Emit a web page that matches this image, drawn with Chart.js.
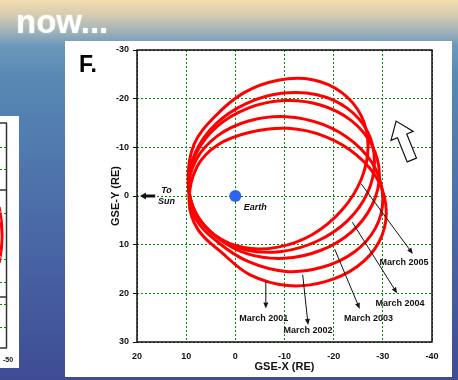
<!DOCTYPE html>
<html>
<head>
<meta charset="utf-8">
<script src="https://cdn.jsdelivr.net/npm/chart.js@4.4.1/dist/chart.umd.min.js"></script>
<style>
  html, body { margin: 0; padding: 0; background: #4a6aa8; }
  canvas { display: block; }
</style>
</head>
<body>
<canvas id="orbits" width="458" height="380"></canvas>
<script>
// Axis ticks (GSE coordinates, Earth radii)
const xTicks = [20, 10, 0, -10, -20, -30, -40];
const yTicks = [-30, -20, -10, 0, 10, 20, 30];

// Earth at the origin
const earth = [{ x: 0, y: 0 }];

// Orbit tracks, [GSE-X, GSE-Y] in RE, going round each loop
const orbit2001 = [[-30.7,3.4],[-29.2,9.5],[-24.8,14.5],[-18.3,17.6],[-10.7,18.4],[-3.0,16.2],[2.8,11.6],[7.6,6.9],[9.4,1.1],[7.8,-6.0],[3.6,-10.5],[-3.0,-13.1],[-10.7,-13.9],[-18.3,-12.2],[-24.8,-8.3],[-29.2,-2.9]];
const orbit2002 = [[-30.0,0.6],[-28.5,6.6],[-24.2,11.5],[-17.8,14.6],[-10.3,15.5],[-2.7,13.5],[3.4,9.6],[8.0,4.8],[9.5,-1.4],[8.0,-7.4],[3.7,-12.3],[-2.7,-15.4],[-10.3,-16.3],[-17.8,-14.7],[-24.2,-10.9],[-28.5,-5.6]];
const orbit2003 = [[-29.3,-4.3],[-27.8,1.9],[-23.6,7.4],[-17.3,11.2],[-9.9,12.8],[-2.5,11.9],[3.6,8.6],[8.0,3.6],[9.5,-2.5],[8.0,-8.7],[3.8,-14.2],[-2.5,-18.0],[-9.9,-19.6],[-17.3,-18.7],[-23.6,-15.5],[-27.8,-10.4]];
const orbit2004 = [[-28.3,-7.1],[-26.9,-0.7],[-22.8,5.1],[-16.6,9.3],[-9.4,11.4],[-2.2,11.1],[4.0,8.3],[8.1,3.5],[9.5,-2.6],[8.1,-9.0],[4.0,-14.8],[-2.2,-19.0],[-9.4,-21.1],[-16.6,-20.8],[-22.8,-18.0],[-26.9,-13.2]];
const orbit2005 = [[-27.0,-10.2],[-25.6,-3.4],[-21.6,3.0],[-15.7,7.9],[-8.7,10.5],[-1.7,10.6],[4.2,8.0],[8.2,3.2],[9.6,-3.1],[8.4,-10.6],[4.2,-16.3],[-1.7,-21.2],[-8.7,-23.8],[-15.7,-23.9],[-21.6,-21.3],[-25.6,-16.5]];

const orbits = [orbit2001, orbit2002, orbit2003, orbit2004, orbit2005];
const orbitNames = ['March 2001', 'March 2002', 'March 2003', 'March 2004', 'March 2005'];

// Callout arrows: start on the orbit, end at the label (data units)
const calloutFrom = [[-6.2,17.6],[-13.7,16.2],[-20.2,10.9],[-23.8,5.4],[-25.6,-2.5]];
const calloutTo   = [[-6.2,23.1],[-14.8,26.5],[-25.3,23.2],[-32.9,20.0],[-36.1,11.9]];
const calloutText = [[-5.8,25.1],[-14.8,27.7],[-27.1,25.1],[-33.5,22.0],[-34.3,13.6]];

const FONT = '"Liberation Sans", Arial, Helvetica, sans-serif';

// Closed loop: pad with the neighbours on both ends so the spline
// has proper tangents at the join, then hide the two padding segments.
function closedLoop(track) {
  const n = track.length;
  const pts = [track[n - 1], ...track, track[0], track[1]];
  return pts.map(([x, y]) => ({ x, y }));
}

const orbitDatasets = orbits.map((track, i) => {
  const data = closedLoop(track);
  const last = data.length - 1;
  return {
    label: orbitNames[i],
    data,
    showLine: true,
    borderColor: '#ff0000',
    borderWidth: 3,
    borderCapStyle: 'round',
    pointRadius: 0,
    pointHoverRadius: 0,
    tension: 0.36,
    segment: {
      borderColor: ctx => (ctx.p0DataIndex === 0 || ctx.p1DataIndex === last) ? 'rgba(0,0,0,0)' : '#ff0000'
    }
  };
});

function arrowLine(ctx, x1, y1, x2, y2, len, half) {
  const a = Math.atan2(y2 - y1, x2 - x1);
  const bx = x2 - len * Math.cos(a), by = y2 - len * Math.sin(a);
  ctx.beginPath(); ctx.moveTo(x1, y1); ctx.lineTo(bx, by); ctx.stroke();
  ctx.beginPath();
  ctx.moveTo(x2, y2);
  ctx.lineTo(bx + half * Math.sin(a), by - half * Math.cos(a));
  ctx.lineTo(bx - half * Math.sin(a), by + half * Math.cos(a));
  ctx.closePath(); ctx.fill();
}

const decor = {
  id: 'decor',
  beforeDraw(chart) {
    const { ctx } = chart;
    ctx.save();
    // slide background
    const g = ctx.createLinearGradient(0, 0, 0, 380);
    g.addColorStop(0.00, '#f2dcae');
    g.addColorStop(0.04, '#d6ccb0');
    g.addColorStop(0.08, '#a3b4b8');
    g.addColorStop(0.12, '#6b99bb');
    g.addColorStop(0.20, '#5789b4');
    g.addColorStop(0.60, '#4a69a7');
    g.addColorStop(1.00, '#3e4c94');
    ctx.fillStyle = g;
    ctx.fillRect(0, 0, 458, 380);

    ctx.font = 'bold 33px ' + FONT;
    ctx.fillStyle = '#ffffff';
    ctx.textBaseline = 'alphabetic';
    ctx.textAlign = 'left';
    ctx.shadowColor = 'rgba(255,255,255,0.5)';
    ctx.shadowBlur = 2;
    ctx.fillText('now...', 16, 33);
    ctx.shadowBlur = 0;

    // neighbouring panel (cut off at the left edge)
    ctx.fillStyle = '#ffffff';
    ctx.fillRect(0, 116, 19, 252);
    ctx.strokeStyle = '#333';
    ctx.lineWidth = 1.5;
    ctx.beginPath();
    ctx.moveTo(6.5, 123); ctx.lineTo(6.5, 348);
    [123, 190, 297, 348].forEach(y => { ctx.moveTo(0, y); ctx.lineTo(7, y); });
    ctx.stroke();
    ctx.strokeStyle = '#009000';
    ctx.lineWidth = 1;
    ctx.beginPath();
    [147, 169, 213, 259, 282, 304, 327].forEach(y => {
      ctx.moveTo(0, y + 0.5); ctx.lineTo(2, y + 0.5);
      ctx.moveTo(4, y + 0.5); ctx.lineTo(6, y + 0.5);
    });
    ctx.stroke();
    ctx.strokeStyle = '#ff0000';
    ctx.lineWidth = 1.2;
    ctx.beginPath();
    ctx.moveTo(0, 207); ctx.quadraticCurveTo(6, 235, 0, 263);
    ctx.moveTo(0, 214); ctx.quadraticCurveTo(4, 235, 0, 256);
    ctx.moveTo(0, 222); ctx.quadraticCurveTo(2.5, 238, 0, 250);
    ctx.stroke();
    ctx.fillStyle = '#111';
    ctx.font = 'bold 7px ' + FONT;
    ctx.fillText('-50', 3, 362);

    // main panel
    ctx.fillStyle = '#ffffff';
    ctx.fillRect(65, 41, 387, 336);
    ctx.fillStyle = '#000';
    ctx.font = 'bold 23px ' + FONT;
    ctx.fillText('F.', 79, 72);
    ctx.restore();
  },
  afterDatasetsDraw(chart) {
    const { ctx, chartArea: ca } = chart;
    const sx = chart.scales.x, sy = chart.scales.y;
    const px = v => sx.getPixelForValue(v);
    const py = v => sy.getPixelForValue(v);
    ctx.save();

    // plot frame
    ctx.strokeStyle = '#111';
    ctx.lineWidth = 1.5;
    ctx.strokeRect(ca.left, ca.top, ca.right - ca.left, ca.bottom - ca.top);

    // callouts
    ctx.strokeStyle = '#111';
    ctx.fillStyle = '#111';
    ctx.lineWidth = 1;
    ctx.font = 'bold 9px ' + FONT;
    ctx.textAlign = 'center';
    ctx.textBaseline = 'middle';
    calloutFrom.forEach((f, i) => {
      const t = calloutTo[i];
      arrowLine(ctx, px(f[0]), py(f[1]), px(t[0]), py(t[1]), 6, 2.5);
      const c = calloutText[i];
      ctx.fillText(orbitNames[i], px(c[0]), py(c[1]));
    });

    // Earth label and direction of the Sun
    ctx.font = 'italic bold 9px ' + FONT;
    ctx.textAlign = 'left';
    ctx.fillText('Earth', px(-1.7), py(2.3));
    ctx.textAlign = 'center';
    ctx.fillText('To', px(14.0), py(-1.2));
    ctx.fillText('Sun', px(14.0), py(1.2));
    ctx.lineWidth = 3;
    arrowLine(ctx, px(16.3), py(0), px(19.4), py(0), 6, 3.5);

    // hollow arrow showing the sense of rotation
    ctx.translate(px(-32.7), py(-15.4));
    ctx.rotate(-22 * Math.PI / 180);
    ctx.beginPath();
    ctx.moveTo(0, 0);
    ctx.lineTo(-12, 16); ctx.lineTo(-5, 16); ctx.lineTo(-5, 42);
    ctx.lineTo(5, 42); ctx.lineTo(5, 16); ctx.lineTo(12, 16);
    ctx.closePath();
    ctx.fillStyle = '#fff';
    ctx.fill();
    ctx.lineWidth = 1.2;
    ctx.strokeStyle = '#111';
    ctx.stroke();
    ctx.restore();
  }
};

const gridStyle = { color: '#008a00', lineWidth: 1 };

new Chart(document.getElementById('orbits'), {
  type: 'scatter',
  data: {
    datasets: [
      {
        label: 'Earth',
        data: earth,
        pointRadius: 6,
        pointHoverRadius: 6,
        backgroundColor: '#2f64ee',
        borderWidth: 0,
        showLine: false
      },
      ...orbitDatasets
    ]
  },
  options: {
    responsive: false,
    animation: false,
    devicePixelRatio: 1,
    layout: { padding: { left: 65, top: 50, right: 26, bottom: 0 } },
    plugins: { legend: { display: false }, tooltip: { enabled: false } },
    scales: {
      x: {
        type: 'linear',
        min: -40, max: 20,
        reverse: true,
        afterBuildTicks: s => { s.ticks = xTicks.map(v => ({ value: v })); },
        afterFit: s => { s.height = 38; s.paddingLeft = 0; s.paddingRight = 0; },
        ticks: { color: '#111', font: { family: FONT, size: 9, weight: 'bold' }, padding: 9 },
        grid: { ...gridStyle, drawTicks: false },
        border: { display: false, dash: [2, 2] },
        title: {
          display: true, text: 'GSE-X (RE)', color: '#111',
          font: { family: FONT, size: 11, weight: 'bold' }, padding: { top: 0, bottom: 6 }
        }
      },
      y: {
        type: 'linear',
        min: -30, max: 30,
        reverse: true,
        afterBuildTicks: s => { s.ticks = yTicks.map(v => ({ value: v })); },
        afterFit: s => { s.width = 72; s.paddingTop = 0; s.paddingBottom = 0; },
        ticks: { color: '#111', font: { family: FONT, size: 9, weight: 'bold' }, padding: 4 },
        grid: { ...gridStyle, drawTicks: true, tickLength: 4, tickColor: '#111', tickBorderDash: [] },
        border: { display: false, dash: [2, 2] },
        title: {
          display: true, text: 'GSE-Y (RE)', color: '#111',
          font: { family: FONT, size: 11, weight: 'bold' }, padding: { top: 44, bottom: 0 }
        }
      }
    }
  },
  plugins: [decor]
});
</script>
</body>
</html>
